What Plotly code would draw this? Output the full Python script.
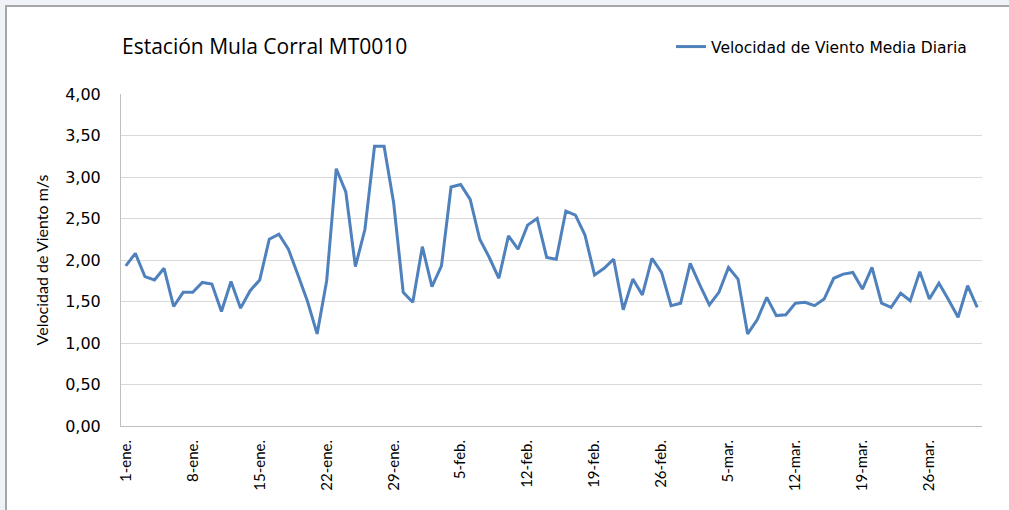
import pandas as pd
import plotly.graph_objects as go

# Daily mean wind speed (m/s), 1 Jan - 31 Mar
fechas = pd.date_range("2013-01-01", periods=90, freq="D")
meses = {1: "ene.", 2: "feb.", 3: "mar."}
etiquetas = [f"{d.day}-{meses[d.month]}" for d in fechas]

velocidad = [
    1.93, 2.08, 1.80, 1.76, 1.90, 1.44, 1.61, 1.61, 1.73, 1.71,
    1.38, 1.74, 1.42, 1.63, 1.76, 2.25, 2.31, 2.13, 1.82, 1.50,
    1.11, 1.75, 3.10, 2.82, 1.92, 2.37, 3.37, 3.37, 2.69, 1.61,
    1.49, 2.16, 1.68, 1.93, 2.88, 2.91, 2.73, 2.25, 2.03, 1.78,
    2.29, 2.13, 2.42, 2.50, 2.03, 2.01, 2.59, 2.54, 2.30, 1.82,
    1.90, 2.01, 1.40, 1.77, 1.58, 2.02, 1.85, 1.45, 1.48, 1.96,
    1.70, 1.46, 1.61, 1.91, 1.77, 1.11, 1.28, 1.55, 1.33, 1.34,
    1.48, 1.49, 1.45, 1.53, 1.78, 1.83, 1.85, 1.65, 1.91, 1.48,
    1.43, 1.60, 1.51, 1.86, 1.53, 1.72, 1.52, 1.31, 1.69, 1.43,
]

tick_etiquetas = etiquetas[::7]

W, H = 1009, 510
L, R, T, B = 121, 27, 94, 84
pw, ph = W - L - R, H - T - B

fig = go.Figure()
fig.add_trace(go.Scatter(
    x=etiquetas, y=velocidad, mode="lines",
    name="Velocidad de Viento Media Diaria",
    line=dict(color="#4F81BD", width=3),
))

# white chart panel with grey frame on a pale background
fig.add_shape(
    type="rect", xref="paper", yref="paper", layer="below",
    x0=(6 - L) / pw, x1=(1030 - L) / pw,
    y0=1 - (530 - T) / ph, y1=1 + (T - 6) / ph,
    fillcolor="white", line=dict(color="#A6A6A6", width=2),
)

fig.update_layout(
    width=W, height=H,
    margin=dict(l=L, r=R, t=T, b=B),
    paper_bgcolor="#EFF3F8", plot_bgcolor="white",
    separators=",.",
    title=dict(
        text="Estación Mula Corral MT0010",
        x=122 / W, xanchor="left", xref="container",
        y=1 - 47 / H, yanchor="middle", yref="container",
        font=dict(family="Open Sans", size=21, color="#000000"),
    ),
    showlegend=True,
    legend=dict(
        x=(972 - L) / pw, xanchor="right",
        y=1 + (T - 47) / ph, yanchor="middle",
        font=dict(family="DejaVu Sans", size=15.5, color="#000000"),
        bgcolor="rgba(0,0,0,0)",
    ),
    xaxis=dict(
        type="category", range=[-0.5, 89.5],
        tickmode="array", tickvals=tick_etiquetas, ticktext=tick_etiquetas,
        tickangle=-90, showgrid=False,
        showline=True, linecolor="#BFBFBF", linewidth=1,
        ticks="", ticklabelstandoff=7,
        tickfont=dict(family="Lato", size=15, color="#000000"),
    ),
    yaxis=dict(
        range=[0, 4], dtick=0.5, tickformat=".2f",
        showgrid=True, gridcolor="#D9D9D9", gridwidth=1,
        showline=True, linecolor="#BFBFBF", linewidth=1,
        zeroline=False, ticks="", ticklabelstandoff=16,
        tickfont=dict(family="DejaVu Sans", size=16, color="#000000"),
        title=dict(text="Velocidad de Viento m/s", standoff=12,
                   font=dict(family="Lato", size=16, color="#000000")),
    ),
)

fig.write_html("out.html")
